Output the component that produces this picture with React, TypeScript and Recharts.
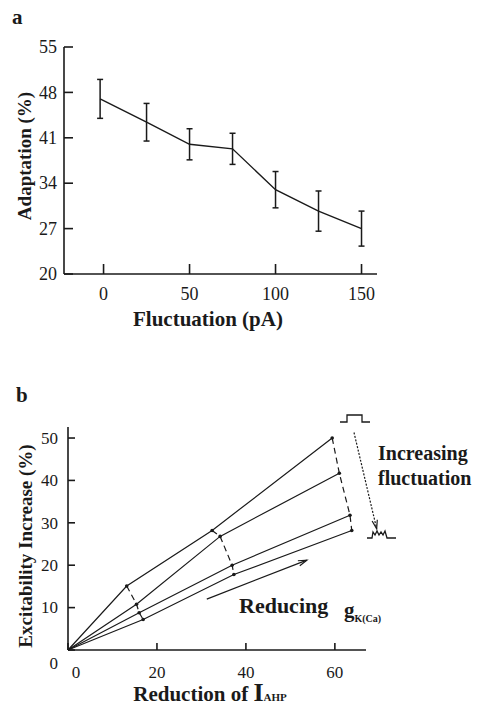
import { LineChart, Line, XAxis, YAxis, ErrorBar, ReferenceLine } from 'recharts'

// panel a: adaptation vs fluctuation
const fluctuation = [-2, 25, 50, 75, 100, 125, 150]
const adaptation = [47.0, 43.4, 40.0, 39.3, 33.0, 29.7, 27.0]
const adaptationErr = [3.0, 2.9, 2.4, 2.4, 2.8, 3.1, 2.7]
const ticksA_x = [0, 50, 100, 150]
const ticksA_y = [20, 27, 34, 41, 48, 55]

// panel b: excitability increase vs reduction of I_AHP, one line per fluctuation level
const reductionL1 = [0, 13.2, 32.4, 59.4]
const excitL1 = [0, 15.1, 28.2, 50.0]
const reductionL2 = [0, 15.4, 34.2, 61.0]
const excitL2 = [0, 10.8, 26.8, 41.7]
const reductionL3 = [0, 16.0, 36.9, 63.4]
const excitL3 = [0, 8.8, 20.0, 31.8]
const reductionL4 = [0, 16.9, 37.3, 63.8]
const excitL4 = [0, 7.2, 17.8, 28.2]
const ticksB_x = [0, 20, 40, 60]
const ticksB_y = [0, 10, 20, 30, 40, 50]

const dataA = fluctuation.map((x, i) => ({ x, y: adaptation[i], err: adaptationErr[i] }))

const levels = [
  [reductionL1, excitL1],
  [reductionL2, excitL2],
  [reductionL3, excitL3],
  [reductionL4, excitL4],
].map(([xs, ys]) => xs.map((x, i) => ({ x, y: ys[i] })))

// dashed lines joining the same g_K(Ca) step across fluctuation levels
const dashed = [1, 2, 3].map((k) => levels.map((l) => l[k]))

const FONT = '"Liberation Serif", "Times New Roman", "DejaVu Serif", serif'
const INK = '#1a1a1a'

const YTick = (props: any) => {
  const { x, y, payload, low, size } = props
  const shift = low && payload.value === 0 ? 13 : 0
  return (
    <text x={x} y={y + size * 0.34 + shift} textAnchor="end" fontFamily={FONT} fontSize={size} fill={INK}>
      {payload.value}
    </text>
  )
}

const XTick = (props: any) => {
  const { x, y, payload, nudge, off, size } = props
  const dx = nudge && payload.value === 0 ? 8 : 0
  return (
    <text x={x + dx} y={y + off} textAnchor="middle" fontFamily={FONT} fontSize={size} fill={INK}>
      {payload.value}
    </text>
  )
}

const Arrow = (props: any) => {
  const { x1, y1, x2, y2, dash } = props
  const a = Math.atan2(y2 - y1, x2 - x1)
  const h = 9
  const p1 = { x: x2 - h * Math.cos(a - 0.3), y: y2 - h * Math.sin(a - 0.3) }
  const p2 = { x: x2 - h * Math.cos(a + 0.3), y: y2 - h * Math.sin(a + 0.3) }
  return (
    <g stroke={INK} strokeWidth={1.2} fill="none">
      <line x1={x1} y1={y1} x2={x2} y2={y2} strokeDasharray={dash} />
      <polyline points={`${p1.x},${p1.y} ${x2},${y2} ${p2.x},${p2.y}`} />
    </g>
  )
}

const smallDot = (props: any) => {
  const { cx, cy, payload, index } = props
  if (payload.x === 0) return <g key={index} />
  return <circle key={index} cx={cx} cy={cy} r={1.8} fill={INK} />
}

const bold = { fontFamily: FONT, fontWeight: 700, fill: INK }

export default function App() {
  return (
    <div style={{ position: 'absolute', left: 0, top: 0, width: 488, height: 710, background: '#fff' }}>
      <div style={{ position: 'absolute', left: 0, top: 0 }}>
        <LineChart width={488} height={340} data={dataA} margin={{ top: 47, right: 111, bottom: 36, left: 0 }}>
          <XAxis
            dataKey="x"
            type="number"
            domain={[-23, 159]}
            ticks={ticksA_x}
            stroke={INK}
            strokeWidth={1.6}
            tickSize={-10}
            tickMargin={12}
            height={30}
            tick={<XTick off={24} size={18} />}
          />
          <YAxis
            type="number"
            domain={[20, 55]}
            ticks={ticksA_y}
            stroke={INK}
            strokeWidth={1.6}
            tickSize={-9}
            tickMargin={16}
            width={64}
            tick={<YTick size={18} />}
          />
          <Line dataKey="y" stroke={INK} strokeWidth={1.4} dot={false} isAnimationActive={false}>
            <ErrorBar dataKey="err" width={3} stroke={INK} strokeWidth={1.5} direction="y" />
          </Line>
        </LineChart>
      </div>

      <div style={{ position: 'absolute', left: 0, top: 370 }}>
        <LineChart width={488} height={340} margin={{ top: 57, right: 122, bottom: 30, left: 0 }}>
          <XAxis
            dataKey="x"
            type="number"
            domain={[0, 67]}
            ticks={ticksB_x}
            allowDuplicatedCategory={false}
            stroke={INK}
            strokeWidth={1.6}
            tickSize={-7}
            tickMargin={9}
            height={30}
            tick={<XTick nudge off={26} size={17} />}
          />
          <YAxis
            type="number"
            domain={[0, 52.6]}
            ticks={ticksB_y}
            stroke={INK}
            strokeWidth={1.6}
            tickSize={-7}
            tickMargin={17}
            width={68}
            tick={<YTick low size={17} />}
          />
          {levels.map((d, i) => (
            <Line
              key={'l' + i}
              data={d}
              dataKey="y"
              stroke={INK}
              strokeWidth={1.2}
              dot={smallDot}
              isAnimationActive={false}
            />
          ))}
          {dashed.map((d, i) => (
            <Line
              key={'d' + i}
              data={d}
              dataKey="y"
              stroke={INK}
              strokeWidth={1.2}
              strokeDasharray="6 4"
              dot={false}
              isAnimationActive={false}
            />
          ))}
          <ReferenceLine
            segment={[{ x: 31.2, y: 12 }, { x: 53.7, y: 21.2 }]}
            ifOverflow="visible"
            shape={(p: any) => <Arrow {...p} />}
          />
          <ReferenceLine
            segment={[{ x: 64.3, y: 51.3 }, { x: 69.4, y: 28.6 }]}
            ifOverflow="visible"
            shape={(p: any) => <Arrow {...p} dash="2 1.5" />}
          />
        </LineChart>
      </div>

      <svg width={488} height={710} style={{ position: 'absolute', left: 0, top: 0, pointerEvents: 'none' }}>
        <text x={12} y={24} fontSize={21} {...bold}>a</text>
        <text x={16} y={402} fontSize={21} {...bold}>b</text>

        <text transform="translate(31,156) rotate(-90)" textAnchor="middle" fontSize={19} {...bold}>
          Adaptation (%)
        </text>
        <text x={208} y={326} textAnchor="middle" fontSize={21} {...bold}>
          Fluctuation (pA)
        </text>

        <text transform="translate(32,546) rotate(-90)" textAnchor="middle" fontSize={19} {...bold}>
          Excitability Increase (%)
        </text>
        <text x={210} y={701} textAnchor="middle" fontSize={21} {...bold}>
          Reduction of <tspan fontSize={26}>I</tspan>
          <tspan fontSize={11}>AHP</tspan>
        </text>

        <text x={378} y={460} fontSize={20} {...bold}>Increasing</text>
        <text x={378} y={485} fontSize={20} {...bold}>fluctuation</text>
        <text x={239} y={613} fontSize={22} {...bold}>
          Reducing
        </text>
        <text x={344} y={617} fontSize={21} {...bold}>
          g<tspan fontSize={10} dy={5}>K(Ca)</tspan>
        </text>

        <path d="M340,422 H347 V415 H362 V422 H370" stroke={INK} strokeWidth={1.3} fill="none" />
        <path
          d="M367,538 H372 L373,532 L375,535 L377,531 L379,535 L381,532 L383,535 L385,531 L387,538 H396"
          stroke={INK}
          strokeWidth={1.3}
          fill="none"
        />
      </svg>
    </div>
  )
}
